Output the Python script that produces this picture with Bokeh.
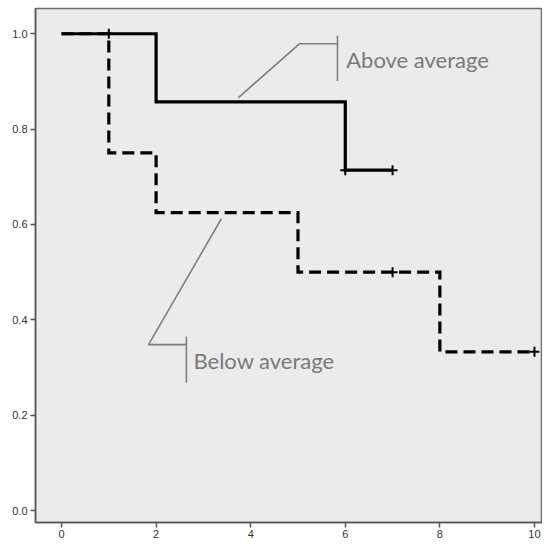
from bokeh.plotting import figure
from bokeh.models import Range1d, FixedTicker
from bokeh.embed import file_html
from bokeh.resources import INLINE
from bokeh.core.properties import value

# Kaplan-Meier style step data
above_t = [0, 2, 6, 7]
above_s = [1.0, 0.857, 0.714, 0.714]
above_cens_t = [6, 7]
above_cens_s = [0.714, 0.714]

below_t = [0, 1, 2, 5, 8, 10]
below_s = [1.0, 0.75, 0.625, 0.5, 0.333, 0.333]
below_cens_t = [1, 7, 10]
below_cens_s = [1.0, 0.5, 0.333]

x_ticks = [0, 2, 4, 6, 8, 10]
y_ticks = [0.0, 0.2, 0.4, 0.6, 0.8, 1.0]
y_tick_labels = {0.0: "0.0", 0.2: "0.2", 0.4: "0.4", 0.6: "0.6", 0.8: "0.8", 1.0: "1.0"}

labels = ["Above average", "Below average"]
# connector paths (data units)
above_conn_x = [3.74, 5.03, 5.835]
above_conn_y = [0.866, 0.979, 0.979]
above_bar = (5.835, 0.996, 0.901)
above_label_pos = (6.02, 0.947)

below_conn_x = [3.38, 1.84, 2.64]
below_conn_y = [0.612, 0.348, 0.348]
below_bar = (2.64, 0.365, 0.268)
below_label_pos = (2.79, 0.314)

p = figure(width=542, height=540, output_backend="svg", toolbar_location=None,
           x_range=Range1d(-0.55, 10.17), y_range=Range1d(-0.025, 1.053),
           min_border_left=35, min_border_right=0, min_border_top=8, min_border_bottom=0)

p.background_fill_color = "#ebebeb"
p.border_fill_color = "white"
p.outline_line_color = "#6a6a6a"
p.outline_line_width = 1.5
p.xgrid.visible = False
p.ygrid.visible = False

for ax in (p.xaxis[0], p.yaxis[0]):
    ax.axis_line_color = "#555555"
    ax.axis_line_width = 1.5
    ax.major_tick_line_color = "#555555"
    ax.major_tick_line_width = 1.5
    ax.major_tick_out = 5
    ax.major_tick_in = 0
    ax.minor_tick_line_color = None
    ax.major_label_text_font = "Liberation Sans"
    ax.major_label_text_font_size = "11px"
    ax.major_label_text_color = "#333333"
    ax.major_label_standoff = 3

p.xaxis.major_label_standoff = 2
p.xaxis.ticker = FixedTicker(ticks=x_ticks)
p.yaxis.ticker = FixedTicker(ticks=y_ticks)
p.yaxis.major_label_overrides = y_tick_labels

# curves
p.step(above_t, above_s, mode="after", line_color="black", line_width=3.2,
       line_join="miter")
p.step(below_t, below_s, mode="after", line_color="black", line_width=3.2,
       line_dash="12 6", line_join="miter")

p.scatter(above_cens_t, above_cens_s, marker="cross", size=10, line_color="black",
          line_width=2)
p.scatter(below_cens_t, below_cens_s, marker="cross", size=10, line_color="black",
          line_width=2)

# annotations
conn_color = "#808080"
p.line(above_conn_x, above_conn_y, line_color=conn_color, line_width=1.6)
p.segment(x0=[above_bar[0]], y0=[above_bar[1]], x1=[above_bar[0]], y1=[above_bar[2]],
          line_color=conn_color, line_width=1.6)
p.line(below_conn_x, below_conn_y, line_color=conn_color, line_width=1.6)
p.segment(x0=[below_bar[0]], y0=[below_bar[1]], x1=[below_bar[0]], y1=[below_bar[2]],
          line_color=conn_color, line_width=1.6)

p.text(x=[above_label_pos[0], below_label_pos[0]],
       y=[above_label_pos[1], below_label_pos[1]], text=labels,
       text_font=value("Lato"), text_font_size="22px", text_color="#7a7a7a",
       text_align="left", text_baseline="middle")

open("out.html", "w").write(file_html(p, INLINE))
